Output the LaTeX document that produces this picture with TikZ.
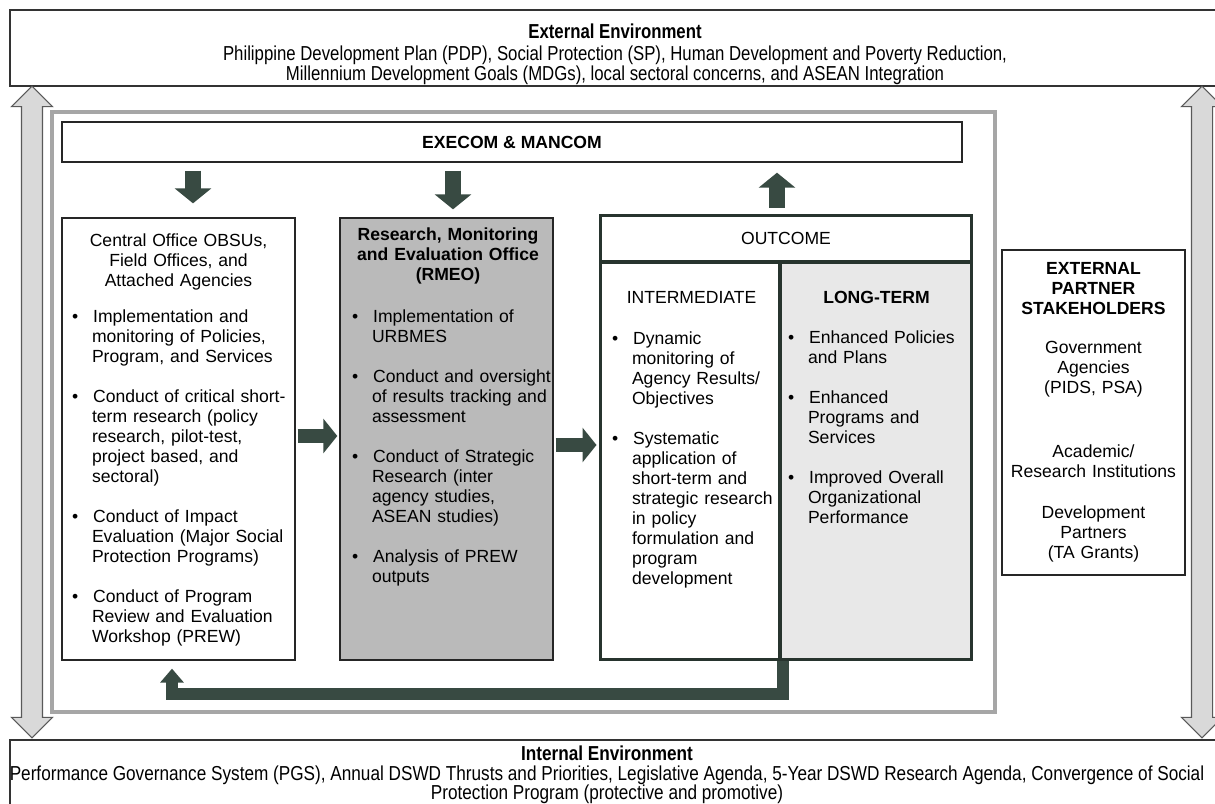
\documentclass[tikz,border=0pt]{standalone}
\usepackage{fontspec}
\setmainfont{Liberation Sans}
\newfontfamily\narrowfont[FakeStretch=0.83]{Liberation Sans}
\newfontfamily\widenarrowfont[FakeStretch=0.85]{Liberation Sans}
\usetikzlibrary{shapes,arrows.meta}

\definecolor{arrowgreen}{RGB}{56,74,66}

\newenvironment{blist}[2]{\begin{list}{\textbullet}{%
  \setlength{\leftmargin}{#1}\setlength{\labelsep}{#2}\setlength{\rightmargin}{-1cm}%
  \setlength{\labelwidth}{0.1cm}\setlength{\itemsep}{0.4cm}%
  \setlength{\parsep}{0pt}\setlength{\topsep}{0pt}\setlength{\partopsep}{0pt}}}%
  {\end{list}}

\tikzset{
  envbox/.style={draw=black!80, line width=0.8pt, fill=white, minimum width=24.3cm},
  envtxt/.style={align=center, inner sep=0pt, font=\narrowfont\fontsize{11.5}{11}\selectfont},
  plainbox/.style={draw=black!85, line width=0.8pt, fill=white, inner sep=0pt},
  outbox/.style={draw=arrowgreen!70!black, line width=0.06cm, fill=white, inner sep=0pt},
  boxtxt/.style={inner sep=0pt, anchor=north, align=left, font=\fontsize{10}{11.4}\selectfont},
  sidearrow/.style={double arrow, draw=black!65, fill=black!15, line width=0.6pt,
    minimum width=0.8cm, double arrow head extend=0.2cm, minimum height=13.04cm,
    inner sep=0.2cm, rotate=90},
  fatarrow/.style={draw=arrowgreen, line width=0.32cm, -{Triangle[length=0.3cm,width=0.72cm]}},
  hfatarrow/.style={draw=arrowgreen, line width=0.3cm, -{Triangle[length=0.28cm,width=0.68cm]}},
  fbarrow/.style={draw=arrowgreen, line width=0.24cm, -{Triangle[length=0.28cm,width=0.46cm]}}
}

\begin{document}
\begin{tikzpicture}[x=0.02cm, y=-0.02cm]
\useasboundingbox (0,0) rectangle (1215,804);

% environment
\node[envbox, minimum height=1.52cm] (ext) at (617.5,48) {};
\node[envbox, minimum height=1.6cm] (intenv) at (617.5,780) {};
\node[envtxt] (exttxt) at (615,54) {\textbf{External Environment}\\[0.06cm]
  Philippine Development Plan (PDP), Social Protection (SP), Human Development and Poverty Reduction,\\
  Millennium Development Goals (MDGs), local sectoral concerns, and ASEAN Integration};
\node[envtxt, font=\widenarrowfont\fontsize{11.5}{11}\selectfont] (inttxt) at (607,775) {\textbf{Internal Environment}\\
  Performance Governance System (PGS), Annual DSWD Thrusts and Priorities, Legislative Agenda, 5-Year DSWD Research Agenda, Convergence of Social\\
  Protection Program (protective and promotive)};

\node[sidearrow] (larr) at (32,412) {};
\node[sidearrow] (rarr) at (1202,412) {};

\node[draw=black!35, line width=0.08cm, minimum width=18.86cm, minimum height=12cm] (frame) at (523.5,412) {};

% boxes
\node[plainbox, minimum width=18cm, minimum height=0.8cm, font=\bfseries\fontsize{10}{11.4}\selectfont] (exec) at (512,142) {EXECOM \& MANCOM};
\node[plainbox, minimum width=4.66cm, minimum height=8.84cm] (central) at (178.5,439) {};
\node[plainbox, fill=black!27, minimum width=4.26cm, minimum height=8.84cm] (rmeo) at (446.5,439) {};
\node[outbox, minimum width=7.44cm, minimum height=0.94cm, font=\fontsize{10}{11.4}\selectfont] (outhd) at (786,238.5) {OUTCOME};
\node[outbox, minimum width=3.6cm, minimum height=7.96cm] (inter) at (690,461) {};
\node[outbox, fill=black!9, minimum width=3.84cm, minimum height=7.96cm] (longt) at (876,461) {};
\node[plainbox, minimum width=3.66cm, minimum height=6.5cm] (partner) at (1093.5,412.5) {};

% texts
\node[boxtxt, text width=4.26cm] (centraltxt) at (178.5,233) {{\centering Central Office OBSUs,\\ Field Offices, and\\ Attached Agencies\par}\vspace{0.32cm}
  \begin{blist}{0.4cm}{0.3cm}
  \item Implementation and\\ monitoring of Policies,\\ Program, and Services
  \item Conduct of critical short-\\ term research (policy\\ research, pilot-test,\\ project based, and\\ sectoral)
  \item Conduct of Impact\\ Evaluation (Major Social\\ Protection Programs)
  \item Conduct of Program\\ Review and Evaluation\\ Workshop (PREW)
  \end{blist}};
\node[boxtxt, text width=4cm] (rmeotxt) at (448,227) {{\centering\bfseries Research, Monitoring\\ and Evaluation Office\\ (RMEO)\par}\vspace{0.44cm}
  \begin{blist}{0.48cm}{0.3cm}
  \item Implementation of\\ URBMES
  \item Conduct and oversight\\ of results tracking and\\ assessment
  \item Conduct of Strategic\\ Research (inter\\ agency studies,\\ ASEAN studies)
  \item Analysis of PREW\\ outputs
  \end{blist}};
\node[boxtxt, text width=3.34cm] (intertxt) at (691.5,291) {{\centering INTERMEDIATE\par}\vspace{0.42cm}
  \begin{blist}{0.48cm}{0.3cm}
  \item Dynamic\\ monitoring of\\ Agency Results/\\ Objectives
  \item Systematic\\ application of\\ short-term and\\ strategic research\\ in policy\\ formulation and\\ program\\ development
  \end{blist}};
\node[boxtxt, text width=3.66cm] (longttxt) at (876.5,291) {{\centering\bfseries LONG-TERM\par}\vspace{0.4cm}
  \begin{blist}{0.46cm}{0.3cm}
  \item Enhanced Policies\\ and Plans
  \item Enhanced\\ Programs and\\ Services
  \item Improved Overall\\ Organizational\\ Performance
  \end{blist}};
\node[boxtxt, align=center, text width=3.6cm] (partnertxt) at (1093.5,262) {\textbf{EXTERNAL}\\ \textbf{PARTNER}\\ \textbf{STAKEHOLDERS}\\[0.38cm]
  Government\\ Agencies\\ (PIDS, PSA)\\[0.88cm]
  Academic/\\ Research Institutions\\[0.42cm]
  Development\\ Partners\\ (TA Grants)};

% arrows
\coordinate (d1) at (193,0);
\coordinate (d2) at (453,0);
\coordinate (u1) at (777,0);
\coordinate (h1) at (0,436);
\coordinate (h2) at (0,445);
\coordinate (fbr) at (783,694);
\coordinate (fbl) at (172,694);
\draw[fatarrow, shorten <=0.16cm, shorten >=0.28cm] (exec.south -| d1) -- (central.north -| d1);
\draw[fatarrow, shorten <=0.16cm, shorten >=0.16cm] (exec.south -| d2) -- (rmeo.north -| d2);
\draw[fatarrow, shorten <=0.12cm, shorten >=0.2cm] (outhd.north -| u1) -- (exec.south -| u1);
\draw[hfatarrow, shorten <=0.04cm, shorten >=0.04cm] (central.east |- h1) -- (rmeo.west |- h1);
\draw[hfatarrow, shorten <=0.04cm, shorten >=0.04cm] (rmeo.east |- h2) -- (inter.west |- h2);
\draw[fbarrow, shorten >=0.16cm] (inter.south -| fbr) -- (fbr) -- (fbl) -- (central.south -| fbl);
\end{tikzpicture}
\end{document}
